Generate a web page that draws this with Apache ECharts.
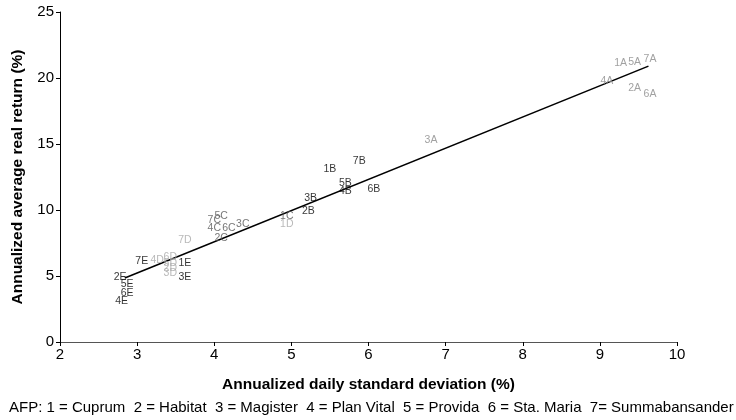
<!DOCTYPE html>
<html>
<head>
<meta charset="utf-8">
<script src="https://cdn.jsdelivr.net/npm/echarts@6/dist/echarts.min.js"></script>
<style>
  html, body { margin: 0; padding: 0; background: #fff; }
  #chart { width: 736px; height: 420px; }
</style>
</head>
<body>
<div id="chart"></div>
<script>
// point labels (fund number + fund type letter)
const pointLabels = ['1A', '5A', '7A', '4A', '2A', '6A', '3A',
  '1B', '7B', '5B', '4B', '6B', '3B', '2B',
  '1C', '7C', '5C', '4C', '6C', '3C', '2C',
  '1D', '7D', '4D', '6D', '5D', '2D', '3D',
  '7E', '1E', '3E', '2E', '5E', '6E', '4E']
// annualized daily standard deviation (%)
const sdValues = [9.27, 9.45, 9.65, 9.09, 9.45, 9.65, 6.81,
  5.50, 5.88, 5.70, 5.70, 6.07, 5.25, 5.22,
  4.94, 4.00, 4.09, 4.00, 4.19, 4.37, 4.09,
  4.94, 3.62, 3.26, 3.43, 3.43, 3.43, 3.43,
  3.06, 3.62, 3.62, 2.78, 2.87, 2.87, 2.80]
// annualized average real return (%)
const returnValues = [21.1, 21.2, 21.4, 19.8, 19.2, 18.8, 15.3,
  13.1, 13.7, 12.0, 11.4, 11.6, 10.9, 9.9,
  9.5, 9.2, 9.5, 8.6, 8.6, 8.9, 7.9,
  8.9, 7.7, 6.2, 6.4, 6.0, 5.6, 5.2,
  6.1, 6.0, 4.9, 4.9, 4.4, 3.7, 3.1]
// fitted line end points
const fitX = [2.84, 9.63]
const fitY = [4.85, 20.9]

const letterColors = {
  A: '#8a8a8a',
  B: '#000000',
  C: '#555555',
  D: '#a8a8a8',
  E: '#000000'
}

const fontFamily = 'Liberation Sans, Arial, sans-serif'
const chart = echarts.init(document.getElementById('chart'))

const points = pointLabels.map((name, i) => ({
  name: name,
  value: [sdValues[i], returnValues[i]],
  label: { color: letterColors[name.charAt(1)] }
}))

const axisFont = { color: '#000', fontSize: 15, fontFamily: fontFamily }

const option = {
  animation: false,
  grid: { left: 60, right: 59, top: 12, bottom: 78 },
  xAxis: {
    type: 'value',
    min: 2,
    max: 10,
    interval: 1,
    name: 'Annualized daily standard deviation (%)',
    nameLocation: 'middle',
    nameGap: 35,
    nameTextStyle: { color: '#000', fontSize: 15.5, fontWeight: 'bold', fontFamily: fontFamily },
    axisLine: { lineStyle: { color: '#555', width: 1 } },
    axisTick: { length: 4, lineStyle: { color: '#000' } },
    axisLabel: Object.assign({ margin: 5 }, axisFont),
    splitLine: { show: false }
  },
  yAxis: {
    type: 'value',
    min: 0,
    max: 25,
    interval: 5,
    name: 'Annualized average real return (%)',
    nameLocation: 'middle',
    nameGap: 34,
    nameTextStyle: { color: '#000', fontSize: 15.5, fontWeight: 'bold', fontFamily: fontFamily },
    axisLine: { show: true, lineStyle: { color: '#000', width: 1 } },
    axisTick: { show: true, length: 4, lineStyle: { color: '#000' } },
    axisLabel: Object.assign({ margin: 6 }, axisFont),
    splitLine: { show: false }
  },
  graphic: [
    {
      type: 'text',
      left: 9,
      top: 400,
      style: {
        text: 'AFP: 1 = Cuprum  2 = Habitat  3 = Magister  4 = Plan Vital  5 = Provida  6 = Sta. Maria  7= Summabansander',
        fill: '#000',
        font: '15px Liberation Sans, Arial, sans-serif'
      }
    }
  ],
  series: [
    {
      type: 'line',
      data: fitX.map((x, i) => [x, fitY[i]]),
      showSymbol: false,
      lineStyle: { color: '#000', width: 1.6 },
      z: 1
    },
    {
      type: 'scatter',
      data: points,
      symbolSize: 1,
      itemStyle: { color: 'rgba(0,0,0,0)' },
      label: {
        show: true,
        position: 'inside',
        formatter: p => p.name,
        fontSize: 10.5,
        fontFamily: fontFamily
      },
      labelLayout: { hideOverlap: false },
      z: 2
    }
  ]
}

chart.setOption(option)
</script>
</body>
</html>
